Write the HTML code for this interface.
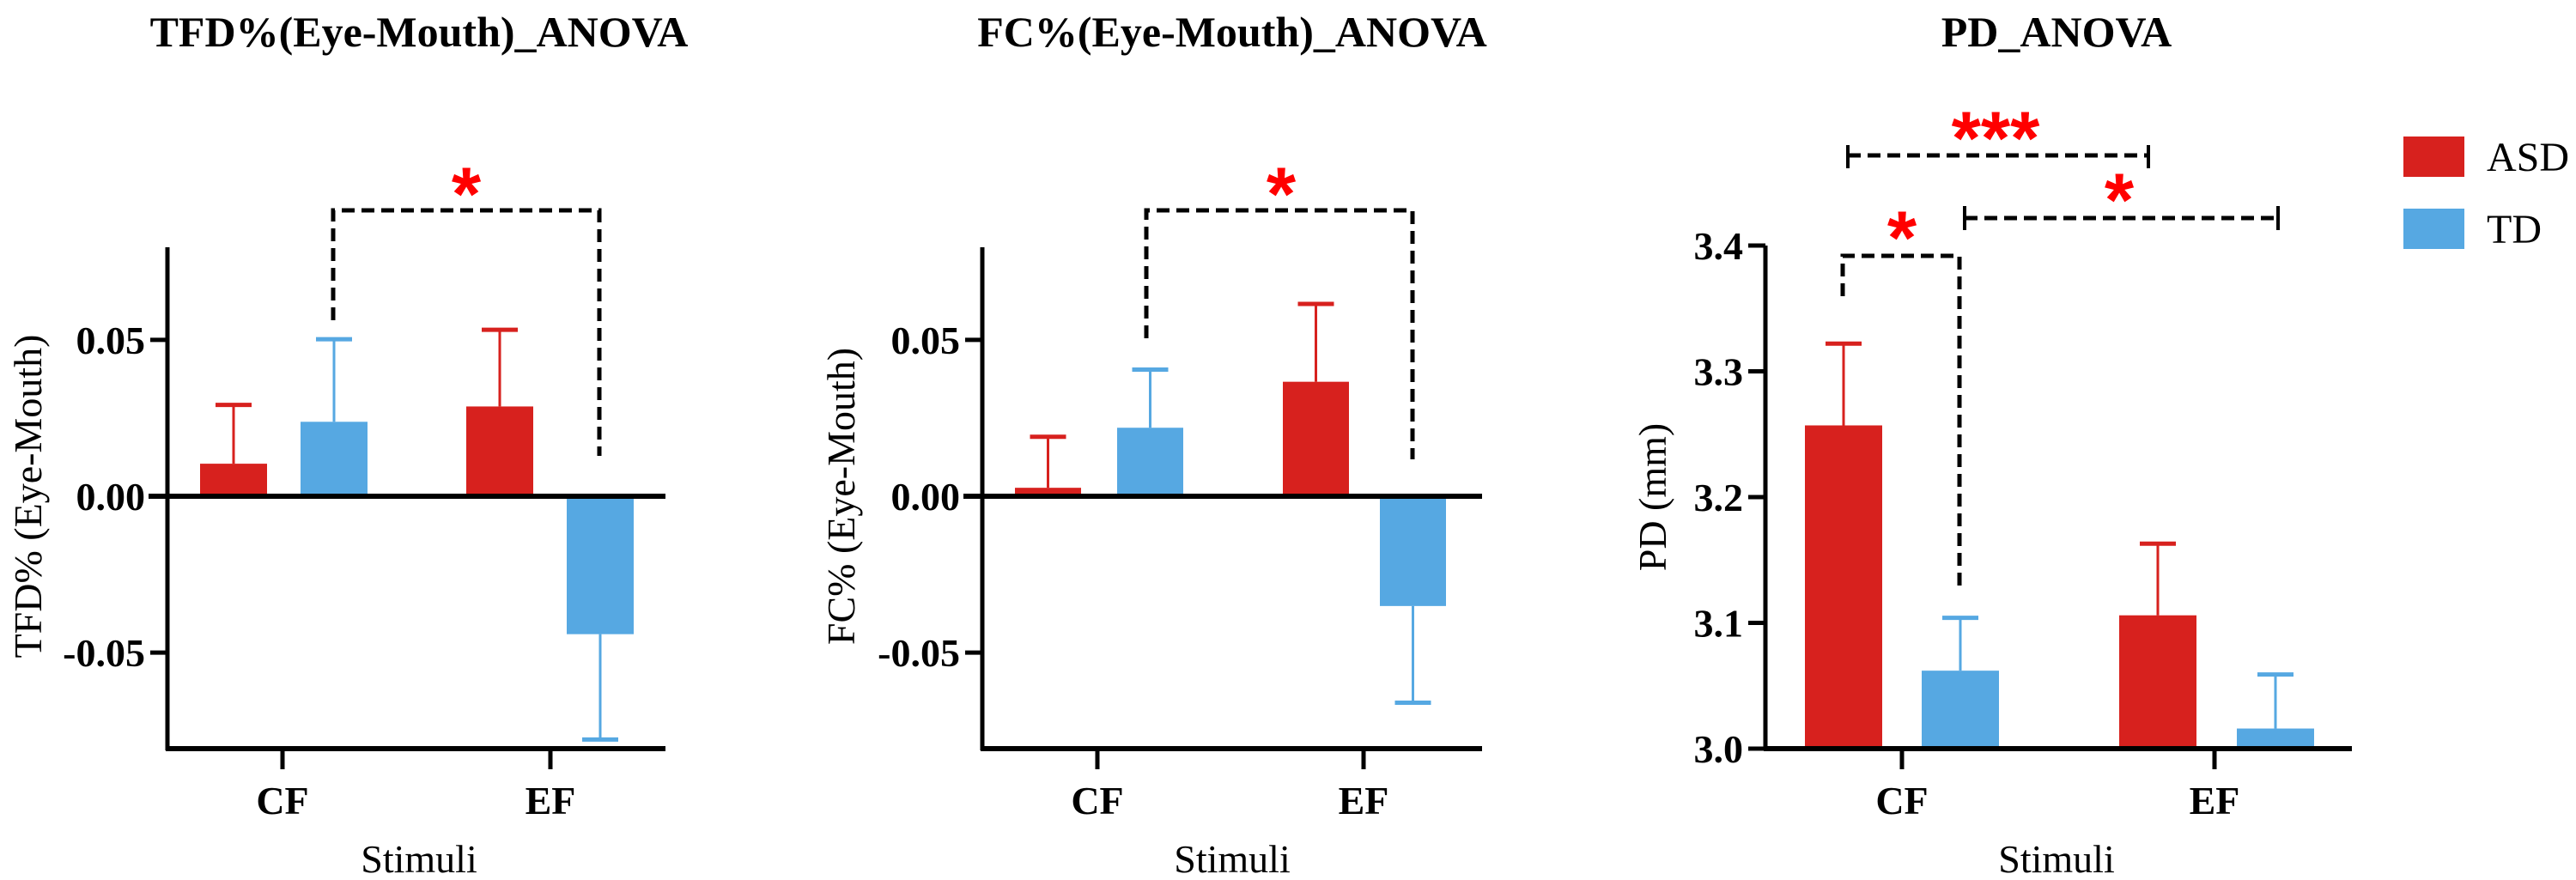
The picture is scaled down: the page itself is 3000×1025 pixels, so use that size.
<!DOCTYPE html>
<html><head><meta charset="utf-8"><style>
html,body{margin:0;padding:0;background:#fff;}
svg{display:block;}
text{font-family:"Liberation Serif",serif;}
</style></head><body>
<svg id="fig" width="3000" height="1025" viewBox="0 0 3000 1025" xmlns="http://www.w3.org/2000/svg"></svg>
<script>
// ---- data ----
const categories = ["CF", "EF"];
const groups = ["ASD", "TD"];
const tfdASD = [0.0104, 0.0287];
const tfdTD = [0.0238, -0.0441];
const tfdASDErr = [0.0188, 0.0245];
const tfdTDErr = [0.0264, -0.0337];
const fcASD = [0.0027, 0.0366];
const fcTD = [0.0219, -0.0351];
const fcASDErr = [0.0163, 0.0249];
const fcTDErr = [0.0186, -0.0309];
const pdASD = [3.257, 3.106];
const pdTD = [3.062, 3.016];
const pdASDErr = [0.065, 0.057];
const pdTDErr = [0.042, 0.043];
const tfdTicks = [0.05, 0.00, -0.05];
const tfdTickLabels = ["0.05", "0.00", "-0.05"];
const pdTicks = [3.0, 3.1, 3.2, 3.3, 3.4];
const pdTickLabels = ["3.0", "3.1", "3.2", "3.3", "3.4"];

const NS = "http://www.w3.org/2000/svg";
const svg = document.getElementById("fig");
const RED = "#D7211E", BLUE = "#56A8E2";
function mk(tag, attrs, parent) {
  const e = document.createElementNS(NS, tag);
  for (const k in attrs) e.setAttribute(k, attrs[k]);
  (parent || svg).appendChild(e);
  return e;
}
function txt(s, attrs, parent) { const t = mk("text", attrs, parent); t.textContent = s; return t; }

const panels = [
  {key:"tfd", title:"TFD%(Eye-Mouth)_ANOVA", ylabel:"TFD% (Eye-Mouth)", axX:195, cx:488,
   vTop:0.0796, vBot:-0.0807, yTop:288, yBot:872, zeroLine:true,
   asd:tfdASD, td:tfdTD, asdE:tfdASDErr, tdE:tfdTDErr, ticks:tfdTicks, tl:tfdTickLabels,
   xEnd:775, catX:[329,641], barX:[[233,350],[543,660]], bw:78, ylx:48, ylcy:578},
  {key:"fc", title:"FC%(Eye-Mouth)_ANOVA", ylabel:"FC% (Eye-Mouth)", axX:1144, cx:1435,
   vTop:0.0796, vBot:-0.0807, yTop:288, yBot:872, zeroLine:true,
   asd:fcASD, td:fcTD, asdE:fcASDErr, tdE:fcTDErr, ticks:tfdTicks, tl:tfdTickLabels,
   xEnd:1726, catX:[1278,1588], barX:[[1182,1301],[1494,1607]], bw:77, ylx:995, ylcy:578},
  {key:"pd", title:"PD_ANOVA", ylabel:"PD (mm)", axX:2056, cx:2395,
   vTop:3.4, vBot:3.0, yTop:286, yBot:872, zeroLine:false,
   asd:pdASD, td:pdTD, asdE:pdASDErr, tdE:pdTDErr, ticks:pdTicks, tl:pdTickLabels,
   xEnd:2739, catX:[2215,2579], barX:[[2102,2238],[2468,2605]], bw:90, ylx:1940, ylcy:579}
];

panels.forEach(p => {
  const g = mk("g", {});
  
  
  const Y = v => p.yTop + (p.vTop - v) / (p.vTop - p.vBot) * (p.yBot - p.yTop);
  const y0 = p.zeroLine ? Y(0) : p.yBot;
  // title
  const t = txt(p.title, {x:p.cx, y:54, "text-anchor":"middle", "font-size":50, "font-weight":"bold"}, g);
  
  
  // bars
  [0,1].forEach(i => {
    [[p.asd, p.asdE, RED, "asd"], [p.td, p.tdE, BLUE, "td"]].forEach((s, j) => {
      const v = s[0][i], e = s[1][i];
      const x = p.barX[i][j];
      const yv = Y(v);
      const r = mk("rect", {x:x, y:Math.min(yv, y0), width:p.bw, height:Math.abs(y0 - yv), fill:s[2]}, g);
      
      
      const ye = Y(v + e);
      const cxm = x + p.bw / 2;
      const l = mk("line", {x1:cxm, x2:cxm, y1:yv, y2:ye, stroke:s[2], "stroke-width":3}, g);
      
      
      const c = mk("line", {x1:cxm - 21, x2:cxm + 21, y1:ye, y2:ye, stroke:s[2], "stroke-width":5}, g);
      
      
    });
  });
  // axes
  const ya = mk("line", {x1:p.axX, x2:p.axX, y1:p.yTop, y2:p.yBot + 2, stroke:"#000", "stroke-width":5}, g);
  
  
  const xa = mk("line", {x1:p.axX - 2, x2:p.xEnd, y1:p.yBot, y2:p.yBot, stroke:"#000", "stroke-width":6}, g);
  
  
  if (p.zeroLine) {
    const z = mk("line", {x1:p.axX - 22, x2:p.xEnd, y1:Y(0), y2:Y(0), stroke:"#000", "stroke-width":6}, g);
    
    
  }
  p.ticks.forEach((v, k) => {
    if (!(p.zeroLine && v === 0)) {
      const tk = mk("line", {x1:p.axX - 20, x2:p.axX, y1:Y(v), y2:Y(v), stroke:"#000", "stroke-width":5}, g);
      
      
    }
    const tl = txt(p.tl[k], {x:p.axX - 26, y:Y(v) + 16, "text-anchor":"end", "font-size":46, "font-weight":"bold"}, g);
    
    
  });
  categories.forEach((c, i) => {
    const tk = mk("line", {x1:p.catX[i], x2:p.catX[i], y1:p.yBot, y2:p.yBot + 24, stroke:"#000", "stroke-width":5}, g);
    
    
    const cl = txt(c, {x:p.catX[i], y:948, "text-anchor":"middle", "font-size":46, "font-weight":"bold"}, g);
    
    
  });
  const xt = txt("Stimuli", {x:p.cx, y:1016, "text-anchor":"middle", "font-size":46}, g);
  
  
  const yt = txt(p.ylabel, {x:0, y:0, "text-anchor":"middle", "font-size":46, transform:`translate(${p.ylx},${p.ylcy}) rotate(-90)`}, g);
  
  
});

// significance brackets
function dashed(d, name) {
  const e = mk("path", {d:d, fill:"none", stroke:"#000", "stroke-width":5, "stroke-dasharray":"15 8"});
  
  
}
function solid(x1, y1, x2, y2) {
  const e = mk("line", {x1:x1, y1:y1, x2:x2, y2:y2, stroke:"#000", "stroke-width":4});
  
  
}
function star(s, x, yc, name) {
  const e = txt(s, {x:x, y:yc + 50, "text-anchor":"middle", "font-size":88, "font-weight":"bold", fill:"#FF0000", style:"font-family:'Liberation Sans',sans-serif"});
  
  
}
dashed("M388 373 L388 245 L698 245 L698 531", "tfd-significance-bracket");
star("*", 543, 206, "tfd-significance-star");
dashed("M1335 394 L1335 245 L1645 245 L1645 535", "fc-significance-bracket");
star("*", 1492, 206, "fc-significance-star");
dashed("M2146 345 L2146 298 L2282 298 L2282 682", "pd-cf-bracket");
star("*", 2215, 257, "pd-cf-star");
dashed("M2152 181 L2502 181", "pd-asd-bracket");
solid(2152, 169, 2152, 196); solid(2502, 169, 2502, 196);
star("***", 2324, 141, "pd-asd-stars");
dashed("M2288 254 L2653 254", "pd-td-bracket");
solid(2288, 240, 2288, 268); solid(2653, 240, 2653, 268);
star("*", 2468, 213, "pd-td-star");

// legend
const lg = mk("g", {});


[[groups[0], RED, 159], [groups[1], BLUE, 243]].forEach(([n, c, y]) => {
  const r = mk("rect", {x:2799, y:y, width:71, height:47, fill:c}, lg);
  
  
  const t = txt(n, {x:2896, y:y + 40, "font-size":48}, lg);
  
  
});
</script>
</body></html>
